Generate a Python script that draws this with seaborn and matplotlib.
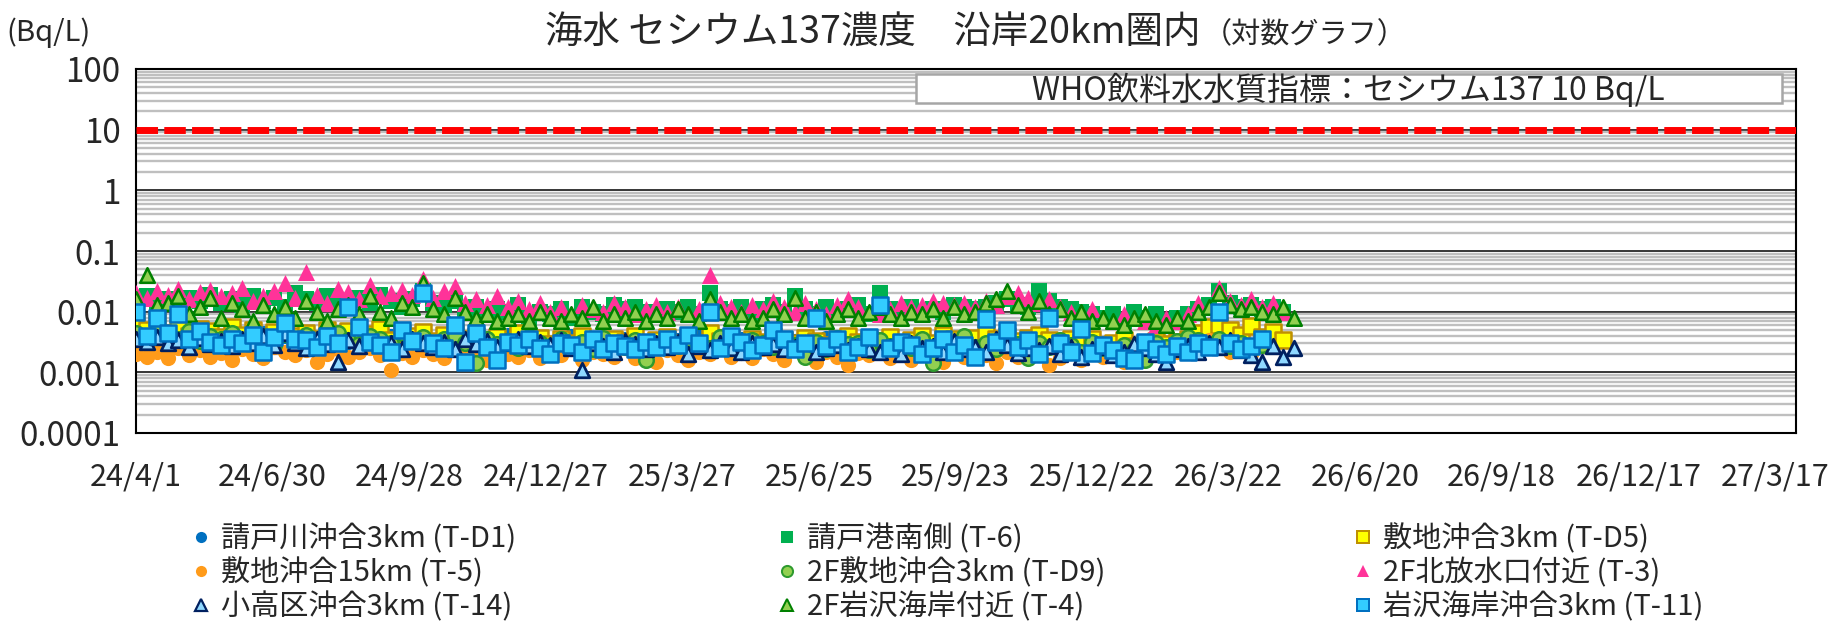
import numpy as np
import pandas as pd
import seaborn as sns
import matplotlib.pyplot as plt
import matplotlib.dates as mdates
from matplotlib.ticker import FixedLocator, FuncFormatter, LogLocator, NullFormatter
from matplotlib.patches import Rectangle
from matplotlib.lines import Line2D
import datetime

sns.set_style('white')
plt.rcParams['font.family'] = ['Noto Sans CJK JP', 'DejaVu Sans']

# weekly sampling dates (2024/4/1 - 2026/5/4)
dates = pd.date_range('2024-04-01', periods=110, freq='7D')
nan = np.nan

# values in mBq/L (divided by 1000 when plotted)
t_d1 = [3.5, 4.0, 3.2, 3.8, 3.0, 4.2, 3.4, 3.6, 2.9, 3.3,
        3.7, 3.1, 4.5, 3.3, 3.9, 3.0, 3.5, 2.8, 4.1, 3.4,
        3.2, 3.8, 3.0, 3.6, 4.0, 2.9, 3.4, 3.7, 3.1, 3.5,
        4.0, 3.2, 3.6, 2.8, 3.3, 4.2, 3.0, 3.5, 2.7, 3.1,
        3.4, 4.0, 2.9, 3.3, 3.7, 3.0, 3.5, 2.6, 3.2, 3.6,
        2.9, 3.4, 3.1, 3.8, 3.0, 3.3, 2.7, 3.6, 3.2, 2.8,
        3.5, 3.0, 3.3, 2.6, 3.1, 3.7, 2.9, 3.4, 3.0, 3.2,
        2.8, 3.6, 3.1, 2.7, 3.4, 3.0, 3.3, 2.9, 3.5, 2.2,
        3.1, 3.4, 2.8, 3.2, 3.6, 3.0, 2.7, 3.3, 2.9, 3.1,
        2.6, 3.0, 2.8, 3.2, 2.5, 2.9, 3.1, 2.7, 3.0, 2.8,
        3.3, 2.9, 3.6, 3.0, 3.2, 2.8, 3.4, 3.0, nan, nan]
t_6 = [15, 18, 14, 16, 13, 17, 15, 19, 14, 16,
       13, 18, 15, 17, 12, 20, 16, 14, 18, 15,
       13, 17, 14, 19, 15, 12, 16, 22, 14, 13,
       15, 10, 12, 9, 11, 10, 13, 8, 10, 9,
       11, 8, 12, 10, 9, 13, 11, 12, 10, 9,
       11, 10, 12, 9, 20, 11, 10, 12, 9, 11,
       13, 10, 18, 11, 9, 12, 10, 11, 13, 9,
       20, 11, 10, 12, 9, 11, 10, 13, 12, 11,
       12, 14, 16, 13, 12, 22, 15, 12, 11, 10,
       9, 8, 9, 7, 10, 8, 9, 7, 8, 9,
       11, 13, 22, 14, 12, 13, 11, 12, 10, nan]
t_d5 = [6.5, 5.0, 7.0, 4.5, 5.5, 4.0, 5.2, 4.8, 3.8, 5.5,
        4.2, 5.0, 3.6, 4.6, 5.8, 3.9, 4.4, 3.5, 5.0, 4.1,
        4.8, 3.7, 4.3, 5.2, 3.4, 4.5, 3.9, 4.7, 3.3, 4.2,
        4.6, 3.5, 4.0, 3.2, 3.8, 3.0, 4.4, 3.3, 3.7, 2.9,
        3.5, 3.1, 4.0, 3.4, 2.8, 3.6, 3.2, 3.9, 3.0, 3.4,
        3.8, 3.1, 3.5, 2.9, 4.4, 3.3, 3.7, 3.0, 3.6, 3.2,
        4.0, 3.4, 3.1, 3.7, 3.3, 2.8, 3.5, 3.9, 3.2, 3.6,
        3.3, 3.8, 3.0, 3.4, 3.9, 3.1, 4.2, 3.5, 3.2, 3.7,
        4.5, 3.6, 3.9, 3.3, 3.7, 4.1, 3.4, 3.0, 3.6, 3.2,
        3.5, 2.8, 3.1, 3.4, 2.7, 3.0, 3.3, 2.9, 3.2, 3.6,
        4.5, 5.5, 6.0, 5.0, 4.2, 5.8, 3.8, 4.6, 3.4, nan]
t_5 = [2.0, 1.8, 2.2, 1.7, 2.5, 1.9, 2.3, 1.8, 2.1, 1.6,
       2.4, 2.0, 1.7, 2.6, 2.2, 1.9, 2.3, 1.5, 2.0, 2.4,
       1.8, 2.2, 2.5, 1.9, 1.1, 2.1, 1.8, 2.3, 2.0, 1.7,
       2.4, 1.9, 2.2, 1.6, 2.5, 2.0, 1.8, 2.3, 1.7, 2.1,
       1.9, 2.4, 1.6, 2.2, 2.0, 1.8, 2.5, 1.7, 2.1, 1.5,
       2.3, 1.9, 1.6, 2.2, 2.0, 2.6, 1.8, 2.1, 1.7, 2.4,
       2.0, 1.6, 2.3, 1.9, 1.5, 2.2, 1.8, 1.3, 2.1, 1.9,
       2.4, 1.7, 2.0, 1.6, 2.2, 1.9, 1.5, 2.3, 1.8, 2.1,
       1.9, 1.4, 2.2, 1.8, 2.5, 2.0, 1.3, 1.7, 2.1, 1.6,
       2.0, 1.8, 2.3, 1.5, 2.1, 1.7, 2.4, 1.9, 2.2, 3.0,
       2.6, 3.4, 2.8, 2.2, 2.5, 2.0, 2.7, nan, nan, nan]
t_d9 = [4.5, 3.8, 5.0, 4.2, 3.5, 4.8, 3.3, 4.0, 3.6, 4.4,
        3.2, 4.6, 3.9, 2.8, 4.3, 3.5, 4.1, 3.0, 3.7, 4.5,
        3.4, 2.9, 4.0, 3.6, 3.1, 4.4, 3.3, 3.8, 2.7, 3.5,
        4.2, 3.0, 1.4, 3.6, 2.9, 3.3, 2.5, 3.8, 3.1, 2.7,
        3.5, 2.8, 3.2, 2.4, 3.7, 3.0, 2.6, 3.4, 1.6, 2.9,
        3.3, 2.7, 3.6, 3.1, 2.5, 3.8, 2.9, 2.2, 3.4, 3.0,
        2.6, 3.5, 2.8, 1.8, 3.2, 2.4, 3.7, 2.9, 3.1, 2.3,
        3.4, 2.7, 3.0, 2.5, 3.6, 1.4, 3.3, 2.8, 3.9, 2.6,
        3.0, 2.4, 3.5, 2.9, 1.7, 3.1, 2.6, 3.4, 2.8, 2.2,
        3.2, 2.5, 2.0, 2.8, 2.3, 1.6, 3.0, 2.6, 3.3, 3.8,
        3.4, 2.9, 3.6, 2.7, 3.1, 2.4, 2.8, nan, nan, nan]
t_3 = [20, 17, 22, 19, 24, 16, 21, 23, 18, 20,
       25, 15, 18, 22, 30, 17, 45, 19, 14, 24,
       21, 16, 28, 18, 20, 23, 19, 35, 17, 22,
       26, 14, 16, 13, 18, 12, 15, 11, 14, 10,
       12, 9, 13, 11, 10, 14, 12, 9, 11, 13,
       10, 12, 9, 11, 40, 14, 12, 10, 13, 11,
       15, 12, 10, 14, 11, 9, 13, 16, 12, 10,
       9, 11, 14, 12, 13, 15, 14, 13, 14, 12,
       15, 13, 18, 20, 17, 14, 16, 12, 10, 9,
       11, 8, 7, 9, 8, 7, 6, 8, 7, 9,
       14, 12, 25, 15, 13, 16, 12, 14, 10, nan]
t_14 = [3.6, 3.2, 3.8, 3.0, 3.4, 2.6, 3.7, 2.9, 3.3, 2.7,
        3.5, 3.1, 4.0, 2.8, 4.4, 3.0, 2.5, 3.6, 2.9, 1.5,
        3.4, 2.7, 3.2, 2.8, 3.0, 2.4, 3.5, 3.0, 2.6, 3.2,
        2.4, 3.6, 2.9, 3.3, 2.6, 3.1, 3.5, 2.7, 3.2, 2.8,
        3.4, 2.5, 1.1, 3.0, 2.7, 2.2, 3.3, 2.9, 2.4, 3.1,
        2.6, 3.2, 2.0, 2.7, 2.3, 3.0, 2.5, 2.2, 3.1, 2.6,
        2.9, 2.4, 2.6, 3.0, 2.2, 2.5, 2.8, 2.3, 2.7, 2.4,
        2.2, 2.6, 2.0, 3.1, 2.5, 2.7, 2.2, 3.3, 2.4, 2.6,
        2.2, 3.6, 2.8, 2.1, 2.5, 2.3, 2.7, 2.0, 2.6, 1.8,
        2.4, 2.6, 1.9, 2.2, 2.9, 2.5, 2.0, 1.5, 2.4, 2.7,
        2.2, 3.0, 2.6, 3.4, 2.3, 1.9, 1.5, 2.7, 1.8, 2.5]
t_4 = [16, 40, 13, 14, 18, 9, 12, 17, 8, 14,
       11, 7, 13, 9, 12, 8, 15, 10, 7, 11,
       13, 9, 18, 10, 8, 14, 12, 30, 11, 9,
       17, 10, 8, 9, 7, 8, 9, 7, 10, 8,
       7, 9, 8, 12, 7, 9, 8, 10, 7, 9,
       8, 11, 9, 7, 16, 10, 8, 9, 7, 8,
       11, 9, 17, 8, 10, 7, 9, 11, 8, 10,
       12, 9, 8, 10, 9, 11, 8, 12, 9, 10,
       14, 16, 22, 13, 10, 15, 9, 11, 8, 10,
       7, 8, 7, 6, 8, 9, 7, 6, 8, 7,
       10, 12, 20, 13, 11, 12, 10, 9, 12, 8]
t_11 = [10, 4.0, 8, 4.5, 9, 3.5, 4.8, 3.2, 2.8, 3.5,
        3.0, 4.2, 2.2, 3.8, 6.5, 3.6, 3.4, 2.6, 4.0, 3.1,
        12, 5.5, 3.2, 2.8, 2.2, 5.0, 3.3, 20, 3.0, 2.5,
        6, 1.5, 4.5, 2.6, 1.6, 3.2, 2.8, 3.5, 2.5, 2.0,
        3.0, 2.8, 2.2, 3.6, 2.4, 3.0, 2.7, 2.4, 3.2, 2.6,
        3.5, 2.8, 4.2, 3.0, 10, 2.5, 4.0, 3.2, 2.3, 2.8,
        5.0, 3.6, 2.4, 3.0, 8, 2.7, 3.5, 2.2, 2.6, 3.8,
        13, 2.5, 3.2, 2.8, 2.0, 2.5, 3.6, 2.2, 2.8, 1.8,
        7.5, 3.2, 5.0, 2.6, 3.4, 2.0, 8, 3.0, 2.2, 5.2,
        2.1, 2.8, 2.3, 1.7, 1.6, 3.2, 2.4, 2.0, 2.7, 2.2,
        3.0, 2.6, 10, 3.0, 2.4, 2.7, 3.5, nan, nan, nan]

labels = ['請戸川沖合3km (T-D1)', '請戸港南側 (T-6)', '敷地沖合3km (T-D5)',
          '敷地沖合15km (T-5)', '2F敷地沖合3km (T-D9)', '2F北放水口付近 (T-3)',
          '小高区沖合3km (T-14)', '2F岩沢海岸付近 (T-4)', '岩沢海岸沖合3km (T-11)']
series = [t_d1, t_6, t_d5, t_5, t_d9, t_3, t_14, t_4, t_11]
markers = ['o', 's', 's', 'o', 'o', '^', '^', '^', 's']
faces = ['#0070C0', '#00B050', '#FFFF00', '#FF9B1A', '#92D050', '#FF3399', '#8FD8FF', '#92D050', '#33CCFF']
edges = ['#0070C0', '#00B050', '#BF9000', '#FF9B1A', '#2E9A2E', '#FF3399', '#002060', '#008000', '#0070C0']
sizes = [120, 130, 120, 120, 110, 150, 110, 110, 130]
lws = [0, 0, 1.8, 0, 1.8, 0, 2.0, 1.8, 1.8]

who_limit = 10

fig = plt.figure(figsize=(18.35, 6.24), dpi=100)
ax = fig.add_axes([136/1835, 1-433/624, 1660/1835, 364/624])

for vals, lab, m, fc, ec, s, lw in zip(series, labels, markers, faces, edges, sizes, lws):
    d = pd.DataFrame({'date': dates, 'v': np.array(vals) / 1000}).dropna()
    sns.scatterplot(data=d, x='date', y='v', marker=m, color=fc, edgecolor=ec,
                    s=s, linewidth=lw, ax=ax, zorder=3, legend=False)

ax.axhline(who_limit, color='#FF0000', lw=5, dashes=(3.1, 0.9), zorder=4)

ax.set_yscale('log')
ax.set_ylim(1e-4, 100)
ax.yaxis.set_major_locator(FixedLocator([1e-4, 1e-3, 1e-2, 1e-1, 1, 10, 100]))
ax.yaxis.set_major_formatter(FuncFormatter(lambda v, p: '{:g}'.format(v)))
ax.yaxis.set_minor_locator(LogLocator(base=10, subs=np.arange(2, 10), numticks=100))
ax.yaxis.set_minor_formatter(NullFormatter())
ax.yaxis.grid(True, which='minor', color='#BFBFBF', lw=1.7, zorder=0)
ax.yaxis.grid(True, which='major', color='#000000', lw=1.1, zorder=1)
ax.tick_params(axis='y', which='both', length=0, pad=11, labelsize=24)

start = datetime.date(2024, 4, 1)
xmaj = [start + datetime.timedelta(days=90 * i) for i in range(13)]
xmin = [start + datetime.timedelta(days=30 * i) for i in range(37)]
ax.set_xlim(mdates.date2num(start), mdates.date2num(datetime.date(2027, 3, 31)))
ax.xaxis.set_major_locator(FixedLocator(mdates.date2num(xmaj)))
ax.xaxis.set_minor_locator(FixedLocator(mdates.date2num(xmin)))
ax.xaxis.set_major_formatter(FuncFormatter(
    lambda v, p: '{}/{}/{}'.format(mdates.num2date(v).year % 100, mdates.num2date(v).month, mdates.num2date(v).day)))
ax.tick_params(axis='x', which='major', direction='inout', length=15, width=1.2, pad=13, labelsize=22, color='black')
ax.tick_params(axis='x', which='minor', direction='out', length=6.5, width=1.2, color='black')
ax.set_xlabel('')
ax.set_ylabel('')
for sp in ax.spines.values():
    sp.set_color('black')
    sp.set_linewidth(1.5)

# WHO guideline box
ax.add_patch(Rectangle((0.470, 0.907), 0.5216, 0.079, transform=ax.transAxes,
                       facecolor='white', edgecolor='#A6A6A6', lw=1.8, zorder=5))
ax.text(0.7305, 0.944, 'WHO飲料水水質指標：セシウム137 10 Bq/L', transform=ax.transAxes,
        ha='center', va='center', fontsize=23, zorder=6)

# title
fig.text(1200/1835, 1-33/624, '海水 セシウム137濃度　沿岸20km圏内', ha='right', va='center', fontsize=27)
fig.text(1203/1835, 1-35/624, '（対数グラフ）', ha='left', va='center', fontsize=21)
fig.text(48/1835, 1-33/624, '(Bq/L)', ha='center', va='center', fontsize=21)

# legend: three columns
handles = [Line2D([], [], ls='', marker=m, markerfacecolor=fc, markeredgecolor=ec,
                  markersize=8, markeredgewidth=max(lw * 0.8, 0.01))
           for m, fc, ec, lw in zip(markers, faces, edges, lws)]
col_x = [192, 778, 1354]
for c in range(3):
    idx = [c, c + 3, c + 6]
    lg = fig.legend([handles[i] for i in idx], [labels[i] for i in idx],
                    loc='upper left', bbox_to_anchor=(col_x[c]/1835, 1-524/624),
                    frameon=False, fontsize=21, handlelength=0.6, handletextpad=0.4,
                    labelspacing=0.12, borderaxespad=0, borderpad=0)

fig.savefig('out.png', dpi=100)
